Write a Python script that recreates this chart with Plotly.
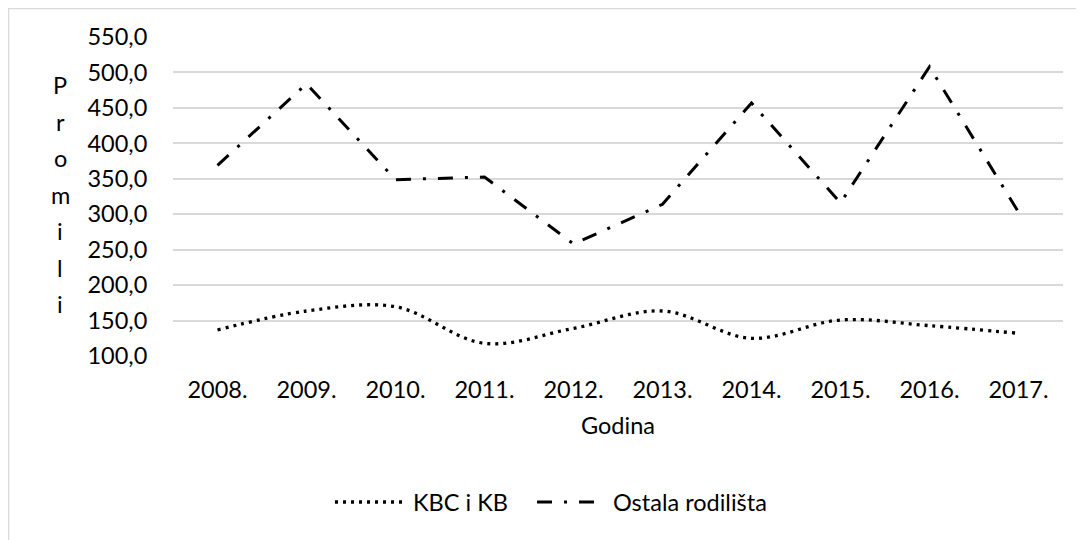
import plotly.graph_objects as go

years = ["2008.", "2009.", "2010.", "2011.", "2012.", "2013.", "2014.", "2015.", "2016.", "2017."]
kbc = [136.7, 163.5, 169.5, 117.9, 139.0, 163.5, 125.0, 150.8, 142.8, 132.0]
ostala = [369.0, 484.0, 348.7, 352.5, 258.0, 314.0, 457.0, 316.0, 508.0, 303.0]
y_ticks = [100, 150, 200, 250, 300, 350, 400, 450, 500, 550]
series_names = ["KBC i KB", "Ostala rodilišta"]
y_title = "Promili"

FONT = "Lato"
FS = 23.5
OFF = 8  # page body margin
W, H = 1076, 532
L, R, T, B = 173 - OFF, 21, 37 - OFF, 184
PW, PH = W - L - R, H - T - B


def px_x(px):
    return (px - OFF - L) / PW


def px_y(py):
    return (H - B - (py - OFF)) / PH


fig = go.Figure()
fig.add_trace(go.Scatter(
    x=years, y=kbc, name=series_names[0], mode="lines",
    line=dict(color="black", width=3.3, dash="3px,5px", shape="spline", smoothing=1.0),
    showlegend=False,
))
fig.add_trace(go.Scatter(
    x=years, y=ostala, name=series_names[1], mode="lines",
    line=dict(color="black", width=3, dash="15px,12px,3px,12px"),
    showlegend=False,
))

shapes = [
    dict(type="line", xref="paper", yref="paper", x0=px_x(8), x1=px_x(W + OFF), y0=px_y(8.5), y1=px_y(8.5),
         line=dict(color="#d9d9d9", width=1.5)),
    dict(type="line", xref="paper", yref="paper", x0=px_x(8.5), x1=px_x(8.5), y0=px_y(8), y1=px_y(H + OFF),
         line=dict(color="#d9d9d9", width=1.5)),
    dict(type="line", xref="paper", yref="paper", x0=px_x(335), x1=px_x(405), y0=px_y(502), y1=px_y(502),
         line=dict(color="black", width=3.3, dash="3px,5px")),
    dict(type="line", xref="paper", yref="paper", x0=px_x(537), x1=px_x(597), y0=px_y(502), y1=px_y(502),
         line=dict(color="black", width=3, dash="15px,12px,3px,12px")),
]

annotations = [
    dict(text=series_names[0], xref="paper", yref="paper", x=px_x(411), y=px_y(502),
         xanchor="left", yanchor="middle", showarrow=False, font=dict(family=FONT, size=FS, color="black")),
    dict(text=series_names[1], xref="paper", yref="paper", x=px_x(611), y=px_y(502),
         xanchor="left", yanchor="middle", showarrow=False, font=dict(family=FONT, size=FS, color="black")),
]
for i, ch in enumerate(y_title):
    annotations.append(dict(
        text=ch, xref="paper", yref="paper", x=px_x(60), y=px_y(85 + i * 36.5),
        xanchor="center", yanchor="middle", showarrow=False,
        font=dict(family=FONT, size=FS, color="black"),
    ))

fig.update_layout(
    width=W, height=H,
    margin=dict(l=L, r=R, t=T, b=B),
    paper_bgcolor="white", plot_bgcolor="white",
    separators=",.",
    font=dict(family=FONT, size=FS, color="black"),
    shapes=shapes,
    annotations=annotations,
    xaxis=dict(
        type="category", range=[-0.5, 9.5], showgrid=False, zeroline=False,
        showline=False, ticks="outside", ticklen=13, tickcolor="rgba(0,0,0,0)",
        tickfont=dict(family=FONT, size=FS, color="black"),
        title=dict(text="Godina", font=dict(family=FONT, size=FS, color="black"), standoff=15),
    ),
    yaxis=dict(
        range=[100, 550], tickvals=y_ticks, tickformat=".1f",
        showgrid=True, gridcolor="#d9d9d9", gridwidth=1.5, zeroline=False, showline=False,
        ticks="outside", ticklen=20, tickcolor="rgba(0,0,0,0)",
        tickfont=dict(family=FONT, size=FS, color="black"),
    ),
)

fig.write_html("out.html")
